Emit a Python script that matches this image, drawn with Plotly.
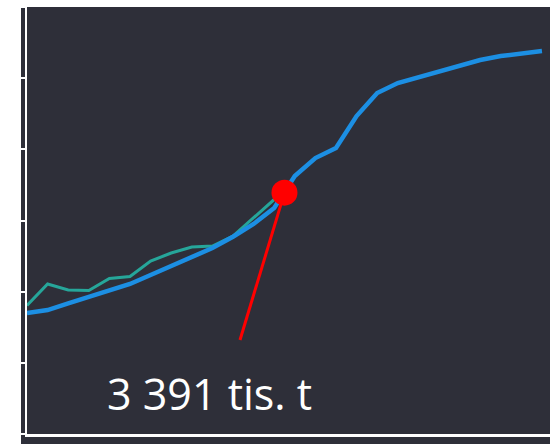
import plotly.graph_objects as go

# x positions (periods) and values in tis. t
x_idx = list(range(26))
blue_vals = [1700, 1742, 1834, 1925, 2009, 2108, 2234, 2361, 2473, 2613,
             2772, 2951, 3175, 3625, 3878, 4019, 4468, 4791, 4932, 5016,
             5100, 5178, 5255, 5311, 5353, 5381]
teal_x = list(range(13)) + [12.5]
teal_vals = [1806, 2108, 2023, 2016, 2185, 2213, 2431, 2543, 2627, 2642,
             2782, 3035, 3295, 3391]
marker_x = [12.5]
marker_val = [3391]
pointer_x = [12.5, 10.34]
pointer_y = [3391, 1321]
label_text = "3 391 tis. t"
y_ticks = [0, 1000, 2000, 3000, 4000, 5000, 6000]

BG = "#2e2f39"

fig = go.Figure()
fig.add_trace(go.Scatter(x=teal_x, y=teal_vals, mode="lines",
                         line=dict(color="#26a69a", width=3), hoverinfo="skip"))
fig.add_trace(go.Scatter(x=x_idx, y=blue_vals, mode="lines",
                         line=dict(color="#1c8fe3", width=4.5), hoverinfo="skip"))
fig.add_trace(go.Scatter(x=pointer_x, y=pointer_y, mode="lines",
                         line=dict(color="#ff0000", width=3), hoverinfo="skip"))
fig.add_trace(go.Scatter(x=marker_x, y=marker_val, mode="markers",
                         marker=dict(color="#ff0000", size=26), hoverinfo="skip"))

W, H = 550, 444
ml, mr, mt, mb = 27, 0, 7, 10
pw, ph = W - ml - mr, H - mt - mb

def px2paper_x(px):
    return (px - ml) / pw

def px2paper_y(py):
    return (H - mb - py) / ph

fig.add_shape(type="rect", xref="paper", yref="paper",
              x0=px2paper_x(21), x1=px2paper_x(551),
              y0=px2paper_y(445), y1=1,
              fillcolor=BG, line=dict(width=0), layer="below")

fig.add_annotation(text=label_text, xref="paper", yref="paper",
                   x=px2paper_x(105), y=px2paper_y(393),
                   xanchor="left", yanchor="middle", showarrow=False,
                   font=dict(family="Open Sans", size=43, color="white"))

fig.update_layout(
    width=W, height=H,
    margin=dict(l=ml, r=mr, t=mt, b=mb),
    paper_bgcolor="white", plot_bgcolor=BG,
    showlegend=False,
    xaxis=dict(range=[0, 25.39], showgrid=False, zeroline=False,
               showticklabels=False, ticks="", showline=True,
               linecolor="white", linewidth=2.5),
    yaxis=dict(range=[0, 6000], tickvals=y_ticks, showgrid=False,
               zeroline=False, showticklabels=False, ticks="outside",
               ticklen=4, tickwidth=2, tickcolor="white", showline=True,
               linecolor="white", linewidth=2),
)

fig.write_html("out.html")
